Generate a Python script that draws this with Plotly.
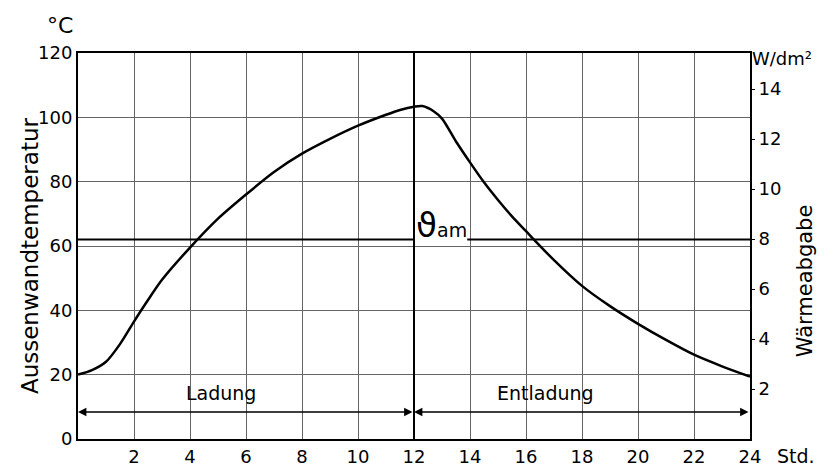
import plotly.graph_objects as go

# ---- data ----
hours = [0, 0.5, 1, 1.5, 2, 2.5, 3, 4, 5, 6, 7, 8, 9, 10, 11, 11.5, 12, 12.3,
         12.7, 13, 13.5, 14, 14.5, 15, 15.5, 16, 17, 18, 19, 20, 21, 22, 23, 24]
temp = [20, 21.4, 24, 29.5, 36.5, 43.2, 49.5, 59.5, 68.5, 76, 83, 88.7, 93.3,
        97.4, 100.8, 102.3, 103.3, 103.5, 101.9, 99.6, 92.5, 86, 79.8, 74.3,
        69.2, 64.6, 55.6, 47.6, 41.3, 35.8, 30.8, 26.2, 22.6, 19.4]
theta_am = 62            # mean temperature line
theta_gap = [12, 13.9]   # where the label interrupts the line
switch_hour = 12         # end of charging
arrow_level = 8.4
x_ticks = [2, 4, 6, 8, 10, 12, 14, 16, 18, 20, 22, 24]
y_ticks = [0, 20, 40, 60, 80, 100, 120]
w_ticks = [2, 4, 6, 8, 10, 12, 14]
w_max = 15.44            # right axis value at 120 °C

FONT = "DejaVu Sans"
fig = go.Figure()

fig.add_trace(go.Scatter(x=hours, y=temp, mode="lines",
                         line=dict(color="black", width=2.5, shape="spline", smoothing=0.8),
                         showlegend=False, hoverinfo="skip"))
# theta_am line (two segments around the label)
fig.add_trace(go.Scatter(x=[0, theta_gap[0], None, theta_gap[1], 24],
                         y=[theta_am, theta_am, None, theta_am, theta_am],
                         mode="lines", line=dict(color="black", width=2),
                         showlegend=False, hoverinfo="skip"))
# dummy trace on right axis
fig.add_trace(go.Scatter(x=[0], y=[0], yaxis="y2", mode="markers",
                         marker=dict(opacity=0), showlegend=False, hoverinfo="skip"))

# vertical line at 12 h
fig.add_shape(type="line", x0=switch_hour, x1=switch_hour, y0=0, y1=120,
              xref="x", yref="y", line=dict(color="black", width=2))

# arrows
for (a, b) in [(0, switch_hour), (switch_hour, 24)]:
    fig.add_annotation(x=a, y=arrow_level, ax=b, ay=arrow_level, xref="x", yref="y",
                       axref="x", ayref="y", text="", showarrow=True,
                       arrowhead=2, startarrowhead=2, arrowside="end+start",
                       arrowsize=1.2, arrowwidth=1.4, arrowcolor="black")

fig.add_annotation(x=5.1, y=arrow_level + 2, text="Ladung", showarrow=False,
                   xref="x", yref="y", yanchor="bottom",
                   font=dict(family=FONT, size=19, color="black"))
fig.add_annotation(x=16.7, y=arrow_level + 2, text="Entladung", showarrow=False,
                   xref="x", yref="y", yanchor="bottom",
                   font=dict(family=FONT, size=19, color="black"))
fig.add_annotation(x=theta_gap[0], y=theta_am, xanchor="left", yanchor="bottom",
                   xshift=0, yshift=-7,
                   text="<span style='font-size:34px'>ϑ</span><span style='font-size:19px'>am</span>",
                   showarrow=False, xref="x", yref="y",
                   font=dict(family=FONT, size=19, color="black"))

# axis titles / units
fig.add_annotation(x=-0.0714, y=0.474, xref="paper", yref="paper",
                   xanchor="center", yanchor="middle",
                   text="Aussenwandtemperatur", textangle=-90, showarrow=False,
                   font=dict(family=FONT, size=23, color="black"))
fig.add_annotation(x=-0.049, y=1.0, xref="paper", yref="paper",
                   xanchor="left", yanchor="bottom",
                   yshift=13, text="°C", showarrow=False,
                   font=dict(family=FONT, size=22, color="black"))
fig.add_annotation(x=1.095, y=0.987, xref="paper", yref="paper",
                   xanchor="right", yanchor="middle",
                   text="W/dm²", showarrow=False,
                   font=dict(family=FONT, size=18, color="black"))
fig.add_annotation(x=1.082, y=0.409, xref="paper", yref="paper",
                   xanchor="center", yanchor="middle",
                   text="Wärmeabgabe", textangle=-90, showarrow=False,
                   font=dict(family=FONT, size=21, color="black"))
fig.add_annotation(x=1.037, y=0, xref="paper", yref="paper", xanchor="left",
                   yanchor="top", yshift=-4,
                   text="Std.", showarrow=False,
                   font=dict(family=FONT, size=19, color="black"))

# the page body adds an 8 px offset, so the figure is drawn 8 px smaller
fig.update_layout(
    width=817, height=464,
    margin=dict(l=70, r=75, t=45, b=33, autoexpand=False),
    paper_bgcolor="white", plot_bgcolor="white",
    showlegend=False,
    xaxis=dict(range=[0, 24], tickvals=x_ticks, ticktext=[str(v) for v in x_ticks],
               showgrid=True, gridcolor="#666", gridwidth=1, automargin=False,
               showline=True, linecolor="black", linewidth=2, mirror=True,
               ticks="", zeroline=False,
               tickfont=dict(family=FONT, size=18, color="black")),
    yaxis=dict(range=[0, 120], tickvals=y_ticks, ticktext=[str(v) for v in y_ticks],
               showgrid=True, gridcolor="#666", gridwidth=1, automargin=False,
               showline=True, linecolor="black", linewidth=2, mirror=True,
               ticks="", zeroline=False,
               tickfont=dict(family=FONT, size=18, color="black")),
    yaxis2=dict(range=[0, w_max], overlaying="y", side="right", automargin=False,
                tickvals=w_ticks, ticktext=[str(v) for v in w_ticks],
                showgrid=False, zeroline=False, showline=False,
                ticks="outside", ticklen=4, tickcolor="black",
                tickfont=dict(family=FONT, size=18, color="black")),
)
fig.write_html("out.html")
